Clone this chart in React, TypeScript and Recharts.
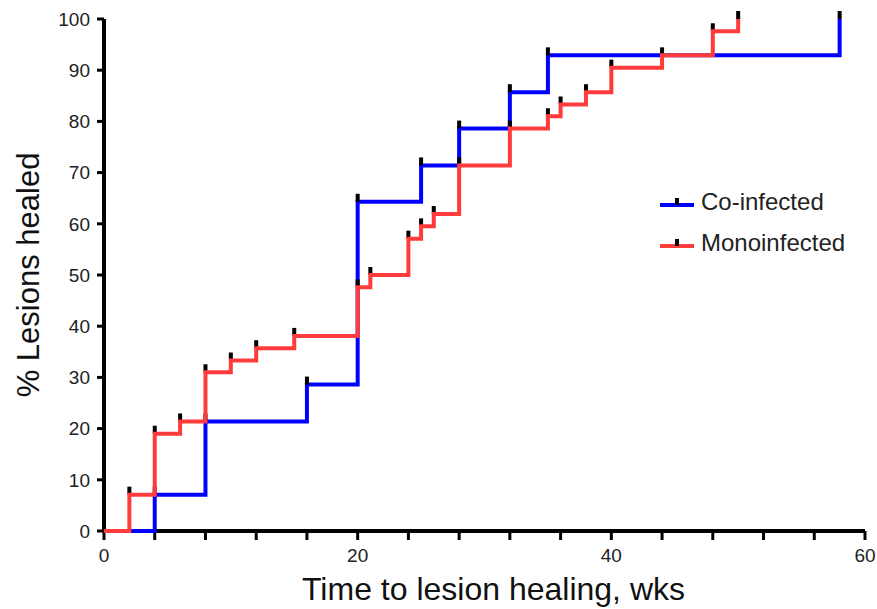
import { Legend, Line, LineChart, ReferenceLine, XAxis, YAxis } from 'recharts'

// Kaplan-Meier style healing curves
const coTimes = [0, 4, 8, 16, 20, 25, 28, 32, 35, 58]
const coValues = [0, 7.1, 21.4, 28.6, 64.3, 71.4, 78.6, 85.7, 92.9, 100]

const monoTimes = [0, 2, 4, 6, 8, 10, 12, 15, 20, 21, 24, 25, 26, 28, 32, 35, 36, 38, 40, 44, 48, 50]
const monoValues = [
  0, 7.1, 19.0, 21.4, 31.0, 33.3, 35.7, 38.1, 47.6, 50.0, 57.1, 59.5, 61.9, 71.4, 78.6, 81.0, 83.3,
  85.7, 90.5, 92.9, 97.6, 100,
]

const xTicks = [0, 4, 8, 12, 16, 20, 24, 28, 32, 36, 40, 44, 48, 52, 56, 60]
const yTicks = [0, 10, 20, 30, 40, 50, 60, 70, 80, 90, 100]

const BLUE = '#0000ff'
const RED = '#ff3b3b'
const FONT = '"Liberation Sans", Arial, Helvetica, sans-serif'

const coData = coTimes.map((x, i) => ({ x, y: coValues[i] }))
const monoData = monoTimes.map((x, i) => ({ x, y: monoValues[i] }))

const series = [
  { name: 'Co-infected', color: BLUE },
  { name: 'Monoinfected', color: RED },
]

// small black mark sitting on top of each step
const StepMark = (props: any) => {
  const { cx, cy, index } = props
  if (index === 0 || cx == null || cy == null) return <g key={`m-${index}`} />
  return <rect key={`m-${index}`} x={cx - 2} y={cy - 8} width={4} height={8} fill="#000" />
}

const LegendContent = () => (
  <div style={{ fontFamily: FONT, fontSize: 24, color: '#222' }}>
    {series.map((s) => (
      <div key={s.name} style={{ display: 'flex', alignItems: 'center', height: 41 }}>
        <svg width={34} height={14} style={{ marginRight: 7 }}>
          <line x1={0} x2={34} y1={10} y2={10} stroke={s.color} strokeWidth={4} />
          <rect x={15} y={3} width={4} height={7} fill="#000" />
        </svg>
        <span>{s.name}</span>
      </div>
    ))}
  </div>
)

export default function App() {
  return (
    <div style={{ position: 'absolute', left: 0, top: 0, background: '#fff' }}>
      <LineChart width={877} height={609} margin={{ top: 19, right: 12, left: 0, bottom: 0 }}>
        <XAxis
          type="number"
          dataKey="x"
          domain={[0, 60]}
          ticks={xTicks}
          interval={0}
          height={78}
          axisLine={false}
          tickLine={{ stroke: '#000', strokeWidth: 3 }}
          tickSize={9}
          tickMargin={9}
          tick={{ fill: '#222', fontSize: 19, fontFamily: FONT }}
          tickFormatter={(v) => (v % 20 === 0 ? String(v) : '')}
          label={{
            value: 'Time to lesion healing, wks',
            position: 'center',
            dx: 9,
            dy: 19,
            fill: '#111',
            fontSize: 32,
            fontFamily: FONT,
          }}
        />
        <YAxis
          type="number"
          domain={[0, 100]}
          ticks={yTicks}
          interval={0}
          width={104}
          axisLine={{ stroke: '#000', strokeWidth: 4 }}
          tickLine={{ stroke: '#000', strokeWidth: 3 }}
          tickSize={7}
          tickMargin={7}
          tick={{ fill: '#222', fontSize: 19, fontFamily: FONT }}
          label={{
            value: '% Lesions healed',
            angle: -90,
            position: 'center',
            dx: -24,
            fill: '#111',
            fontSize: 31,
            fontFamily: FONT,
          }}
        />
        <ReferenceLine y={0} stroke="#000" strokeWidth={4} zIndex={100} />
        <Legend
          content={LegendContent}
          layout="vertical"
          align="center"
          verticalAlign="middle"
          wrapperStyle={{ left: 660, top: 181, width: 210 }}
        />
        <Line
          data={coData}
          dataKey="y"
          name="Co-infected"
          type="stepAfter"
          stroke={BLUE}
          strokeWidth={4}
          dot={StepMark}
          activeDot={false}
          zIndex={600}
          isAnimationActive={false}
        />
        <Line
          data={monoData}
          dataKey="y"
          name="Monoinfected"
          type="stepAfter"
          stroke={RED}
          strokeWidth={4}
          dot={StepMark}
          activeDot={false}
          zIndex={610}
          isAnimationActive={false}
        />
      </LineChart>
    </div>
  )
}
